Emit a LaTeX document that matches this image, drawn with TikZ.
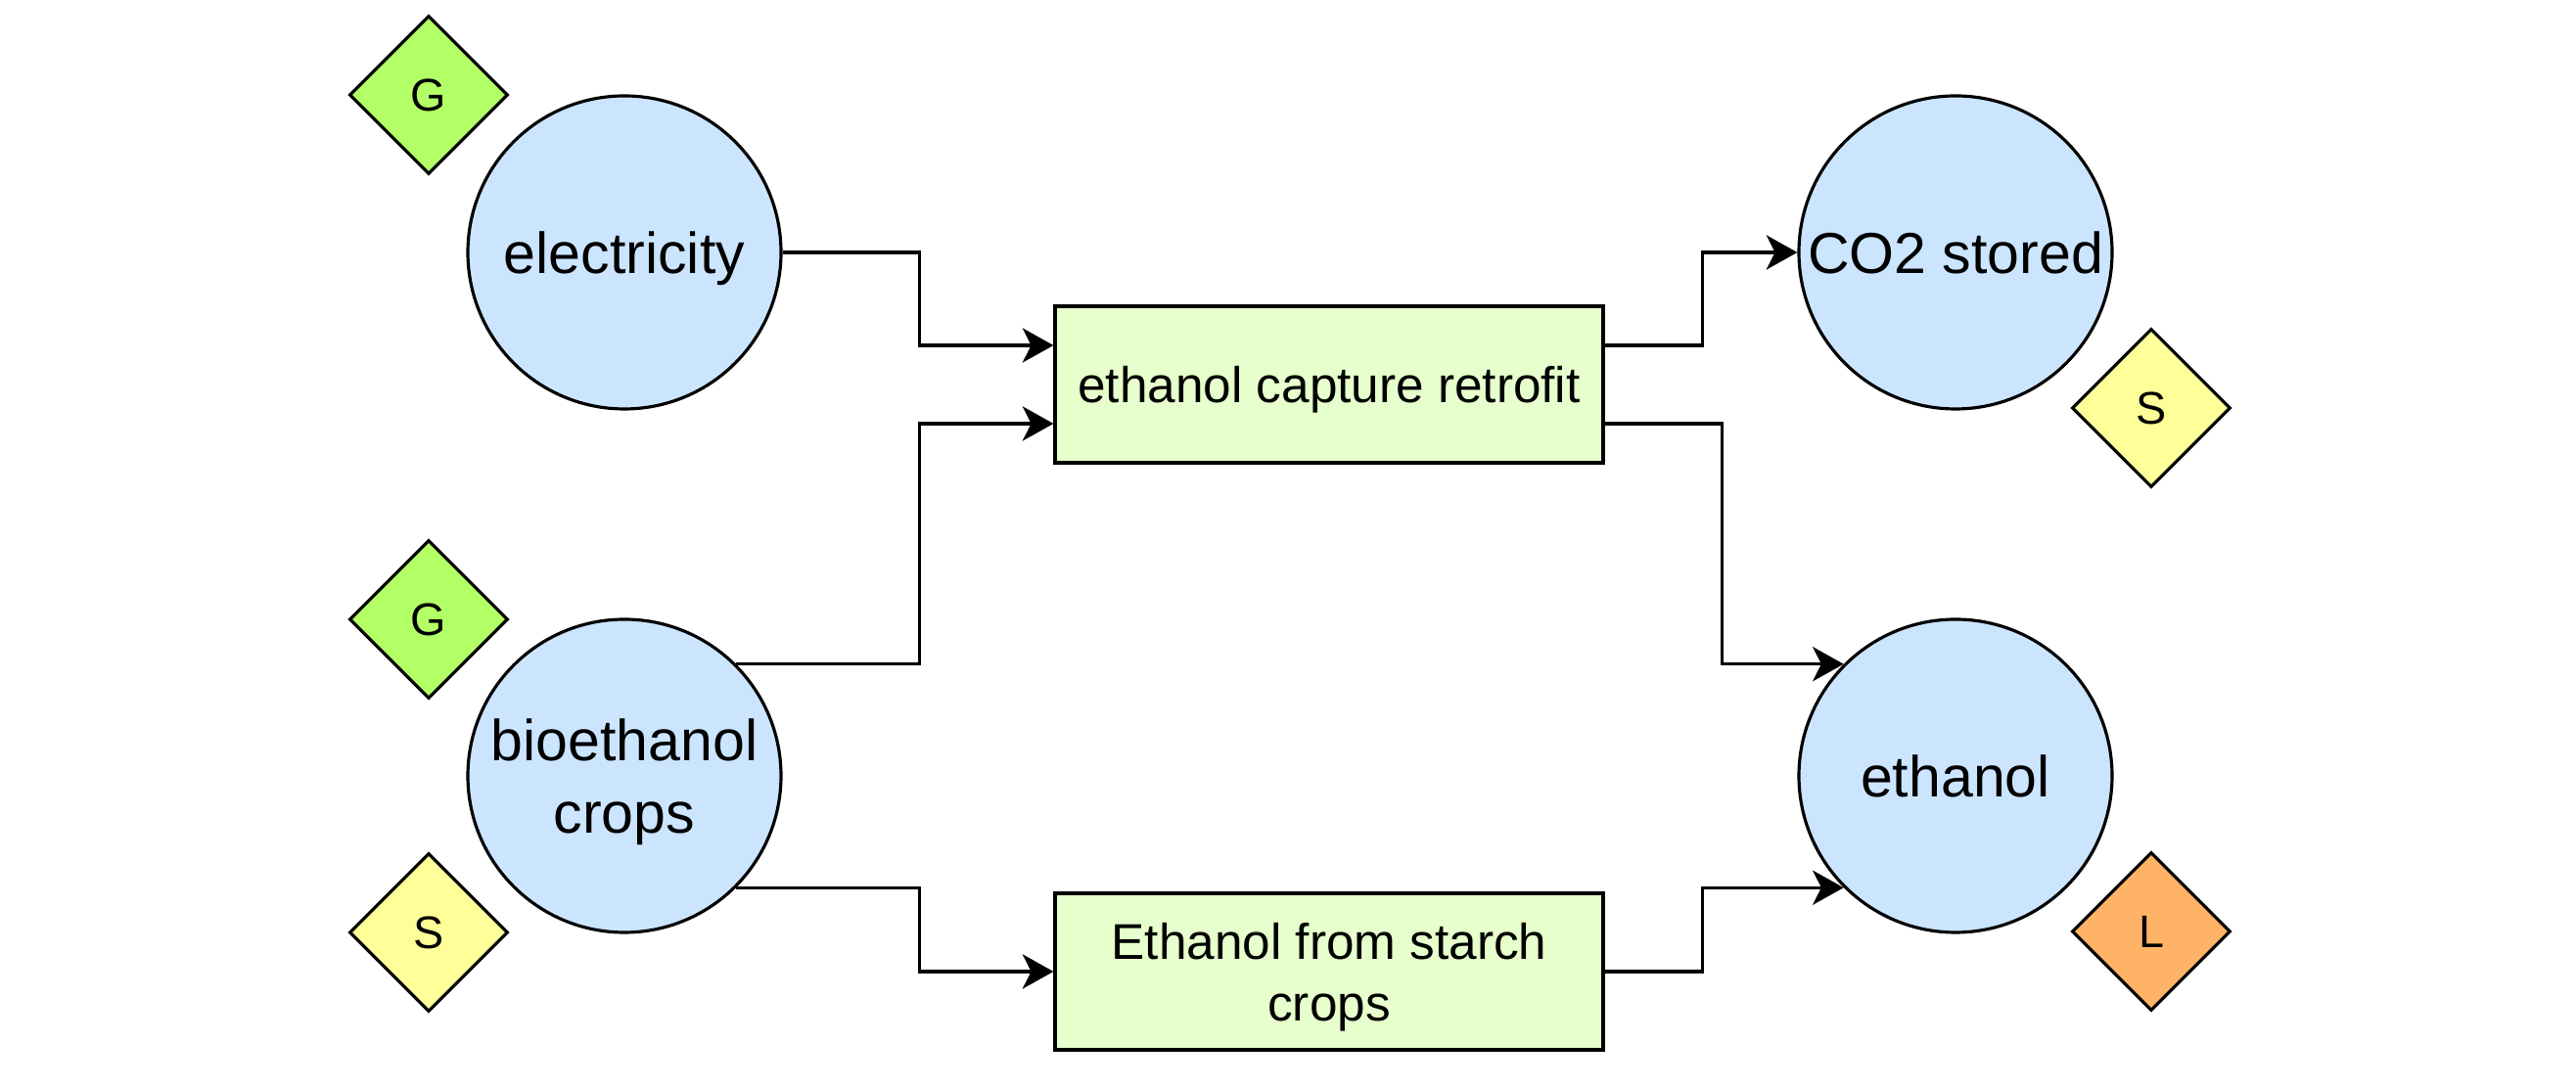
\documentclass[tikz,border=0pt]{standalone}
\usepackage{fontspec}
\setmainfont{Liberation Sans}
\usetikzlibrary{shapes.geometric,arrows.meta}

\tikzset{
    carrier/.style={circle, draw, line width=0.9pt, fill=carrierblue, minimum size=3.2cm, inner sep=0pt, align=center, text depth=0pt, font=\fontsize{16.8}{21}\selectfont},
    tech/.style={rectangle, draw, line width=0.9pt, fill=techgreen, minimum width=5.6cm, minimum height=1.6cm, inner sep=0pt, align=center, text depth=0pt, font=\fontsize{14.6}{17.9}\selectfont},
    tag/.style={diamond, draw, line width=0.9pt, aspect=1, minimum size=1.62cm, inner sep=0pt, font=\fontsize{13.3}{16}\selectfont},
    flow/.style={line width=0.9pt, -{Stealth[length=9pt, width=10pt, inset=2.5pt]}}
}
\definecolor{carrierblue}{HTML}{CCE5FF}
\definecolor{techgreen}{HTML}{E6FFCC}
\definecolor{tagG}{HTML}{B3FF66}
\definecolor{tagS}{HTML}{FFFF99}
\definecolor{tagL}{HTML}{FFB366}

\begin{document}
\begin{tikzpicture}
        \useasboundingbox (0, 0) rectangle (26.32, 11.12);
        % carriers
        \node[carrier] (elec) at (6.38, 8.54) {electricity};
        \node[carrier] (bio) at (6.38, 3.19) {bioethanol\\crops};
        \node[carrier] (co2) at (19.98, 8.54) {CO2 stored};
        \node[carrier] (eth) at (19.98, 3.19) {ethanol};
        % technologies
        \node[tech] (retrofit) at (13.58, 7.19) {ethanol capture retrofit};
        \node[tech] (starch) at (13.58, 1.19) {Ethanol from starch\\crops};
        % tags
        \node[tag, fill=tagG] (elecG) at (4.38, 10.15) {G};
        \node[tag, fill=tagG] (bioG) at (4.38, 4.79) {G};
        \node[tag, fill=tagS] (bioS) at (4.38, 1.59) {S};
        \node[tag, fill=tagS] (co2S) at (21.98, 6.95) {S};
        \node[tag, fill=tagL] (ethL) at (21.98, 1.60) {L};
        % flows
        \draw[flow] (elec.east) -- ++(1.4, 0) |- ([yshift=4mm]retrofit.west);
        \draw[flow] (bio.45) -- ++(1.87, 0) |- ([yshift=-4mm]retrofit.west);
        \draw[flow] (bio.-45) -- ++(1.87, 0) |- (starch.west);
        \draw[flow] ([yshift=4mm]retrofit.east) -- ++(1.0, 0) |- (co2.west);
        \draw[flow] ([yshift=-4mm]retrofit.east) -- ++(1.2, 0) |- (eth.135);
        \draw[flow] (starch.east) -- ++(1.0, 0) |- (eth.-135);
    \end{tikzpicture}
\end{document}
